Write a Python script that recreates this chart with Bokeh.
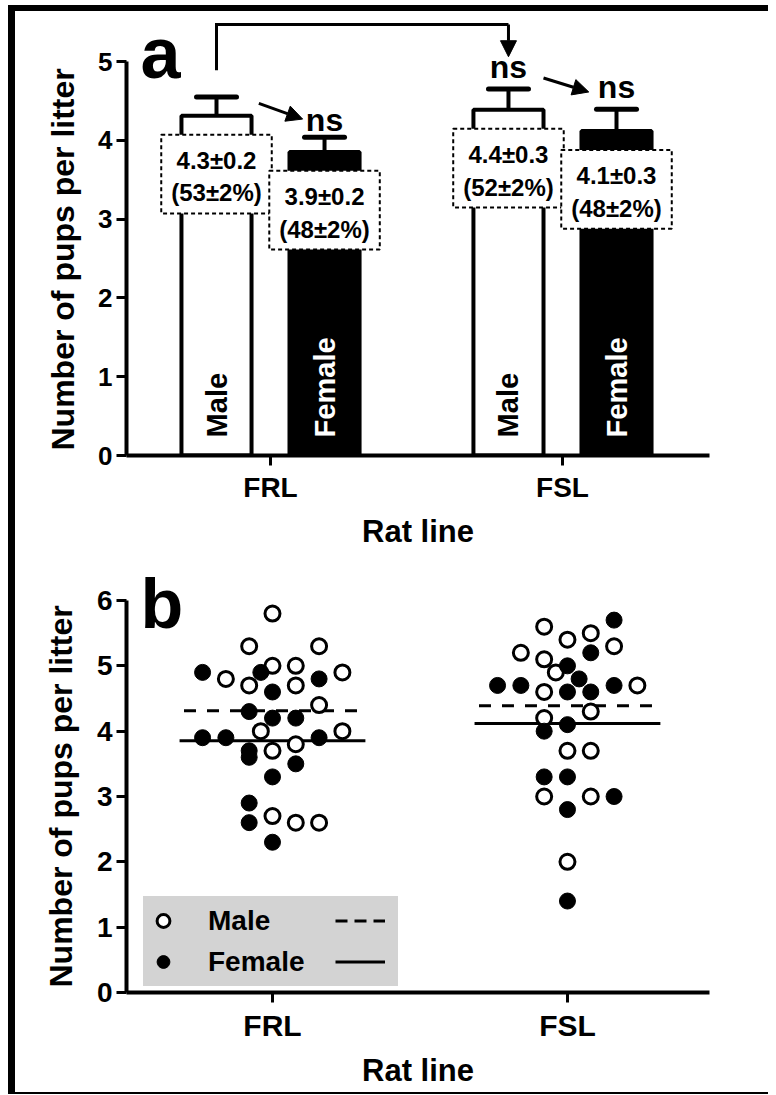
import math
import numpy as np
from bokeh.plotting import figure
from bokeh.models import (ColumnDataSource, FixedTicker, Whisker, TeeHead, Arrow,
                          NormalHead, Label, Legend, LegendItem, Range1d, Title)
from bokeh.layouts import column
from bokeh.embed import file_html
from bokeh.resources import INLINE
from bokeh.core.properties import value

FONT = "Liberation Sans"

# ---------------- data ----------------
rat_lines = ["FRL", "FSL"]
sexes = ["Male", "Female"]
x_title = "Rat line"
y_title = "Number of pups per litter"

frl_male = [5.8, 5.3, 5.3, 5.0, 5.0, 4.9, 4.8, 4.7, 4.7, 4.4, 4.0, 4.0, 3.8, 3.7, 2.7, 2.6, 2.6]
frl_male_slot = [0, -1, 2, 0, 1, 3, -2, -1, 1, 2, -0.5, 3, 1, 0, 0, 1, 2]
frl_female = [4.9, 4.9, 4.8, 4.6, 4.3, 4.2, 4.2, 3.9, 3.9, 3.9, 3.7, 3.6, 3.5, 3.3, 2.9, 2.6, 2.3]
frl_female_slot = [-3, -0.5, 2, 0, -1, 0, 1, -3, -2, 2, -1, -1, 1, 0, -1, -1, 0]
fsl_male = [5.6, 5.5, 5.4, 5.3, 5.2, 5.1, 4.9, 4.7, 4.6, 4.3, 4.2, 3.7, 3.7, 3.0, 3.0, 2.0]
fsl_male_slot = [-1, 1, 0, 2, -2, -1, -0.5, 3, -1, 1, -1, 0, 1, -1, 1, 0]
fsl_female = [5.7, 5.2, 5.0, 4.8, 4.7, 4.7, 4.7, 4.6, 4.6, 4.1, 4.0, 3.3, 3.3, 3.0, 2.8, 1.4]
fsl_female_slot = [2, 1, 0, 0.5, -3, -2, 2, 0, 1, 0, -1, -1, 0, 2, 0, 0]

# summary annotations, order: FRL-Male, FRL-Female, FSL-Male, FSL-Female
mean_sem_labels = ["4.3\u00b10.2", "3.9\u00b10.2", "4.4\u00b10.3", "4.1\u00b10.3"]
percent_labels = ["(53\u00b12%)", "(48\u00b12%)", "(52\u00b12%)", "(48\u00b12%)"]
ns_label = "ns"

# ---------------- derived ----------------
values = {("FRL", "Male"): frl_male, ("FRL", "Female"): frl_female,
          ("FSL", "Male"): fsl_male, ("FSL", "Female"): fsl_female}
slots = {("FRL", "Male"): frl_male_slot, ("FRL", "Female"): frl_female_slot,
         ("FSL", "Male"): fsl_male_slot, ("FSL", "Female"): fsl_female_slot}
group_pos = {"FRL": 1.0, "FSL": 3.0}
bar_off = {"Male": -0.37, "Female": 0.37}
order = [(g, s) for g in rat_lines for s in sexes]

bx = [group_pos[g] + bar_off[s] for g, s in order]
means = [float(np.mean(values[k])) for k in order]
sems = [float(np.std(values[k], ddof=1) / np.sqrt(len(values[k]))) for k in order]
caps = [m + e for m, e in zip(means, sems)]
box_top = [m - 0.24 for m in means]


def style(p, ymax, xlab_size, ylab_size):
    p.xgrid.visible = False
    p.ygrid.visible = False
    p.outline_line_color = None
    p.background_fill_color = "white"
    p.border_fill_color = "white"
    for ax in (p.xaxis[0], p.yaxis[0]):
        ax.axis_line_width = 4
        ax.axis_line_color = "black"
        ax.major_tick_line_width = 3
        ax.major_tick_line_color = "black"
        ax.major_tick_out = 10
        ax.major_tick_in = 0
        ax.minor_tick_line_color = None
        ax.major_label_text_font = FONT
        ax.major_label_text_font_style = "bold"
        ax.major_label_text_color = "black"
        ax.axis_label_text_font = FONT
        ax.axis_label_text_font_style = "bold"
        ax.axis_label_text_color = "black"
        ax.axis_label_text_font_size = "31px"
    p.xaxis[0].major_label_text_font_size = xlab_size
    p.yaxis[0].major_label_text_font_size = ylab_size
    p.xaxis[0].ticker = FixedTicker(ticks=[group_pos[g] for g in rat_lines])
    p.xaxis[0].major_label_overrides = {group_pos[g]: g for g in rat_lines}
    p.xaxis[0].major_label_standoff = 6
    p.xaxis[0].axis_label = x_title
    p.xaxis[0].axis_label_standoff = 8
    p.yaxis[0].ticker = FixedTicker(ticks=list(range(0, ymax + 1)))
    p.yaxis[0].bounds = (0, ymax)
    p.yaxis[0].major_label_standoff = 4
    # y title starts at the bottom of the axis (as in the original), not centred on the frame
    p.add_layout(Title(text=y_title, align="left", offset=5, vertical_align="middle", standoff=28,
                       text_font=FONT, text_font_style="bold", text_font_size="32px",
                       text_color="black"), "left")


# ---------------- panel a ----------------
pa = figure(width=753, height=551, x_range=Range1d(0.0135, 4.007), y_range=Range1d(0, 5.635),
            output_backend="svg", toolbar_location=None,
            min_border_left=111, min_border_right=51, min_border_top=0, min_border_bottom=107)
style(pa, 5, "28px", "26px")

bars = ColumnDataSource(dict(
    x=bx, top=means, upper=caps,
    fill=["white" if s == "Male" else "black" for g, s in order],
    tcolor=["black" if s == "Male" else "white" for g, s in order],
    sex=[s for g, s in order],
    box_y=[t - 0.5 for t in box_top],
    t1_y=[t - 0.33 for t in box_top],
    t2_y=[t - 0.74 for t in box_top],
    t1=mean_sem_labels, t2=percent_labels,
))

pa.vbar(x="x", top="top", bottom=0, width=0.48, fill_color="fill", line_color="black",
        line_width=4, source=bars)
pa.add_layout(Whisker(base="x", lower="top", upper="upper", source=bars, dimension="height",
                      line_color="black", line_width=4,
                      upper_head=TeeHead(size=40, line_color="black", line_width=5, line_cap="round"),
                      lower_head=None))
pa.rect(x="x", y="box_y", width=0.757, height=1.0, fill_color="white", line_color="black",
        line_width=2, line_dash="4 3", source=bars)
for col_y, col_t in (("t1_y", "t1"), ("t2_y", "t2")):
    pa.text(x="x", y=col_y, text=col_t, source=bars, text_align="center", text_baseline="middle",
            text_font=value(FONT), text_font_style="bold", text_font_size="24px", text_color="black")
pa.text(x="x", y=0.23, text="sex", source=bars, angle=math.pi / 2, text_align="left",
        text_baseline="middle", text_color="tcolor", text_font=value(FONT),
        text_font_style="bold", text_font_size="29px")

ns_src = ColumnDataSource(dict(x=[bx[1], bx[2], bx[3]],
                               y=[caps[1] + 0.22, caps[2] + 0.28, caps[3] + 0.28],
                               t=[ns_label] * 3))
pa.text(x="x", y="y", text="t", source=ns_src, text_align="center", text_baseline="middle",
        text_font=value(FONT), text_font_style="bold", text_font_size="32px", text_color="black")

# comparison arrows
for (xs, ys), (xe, ye) in (((bx[0] + 0.29, caps[0] - 0.08), (bx[1] - 0.15, caps[1] + 0.23)),
                           ((bx[2] + 0.24, caps[2] + 0.14), (bx[3] - 0.19, caps[3] + 0.22))):
    pa.add_layout(Arrow(x_start=xs, y_start=ys, x_end=xe, y_end=ye, line_width=3, line_color="black",
                        end=NormalHead(size=16, fill_color="black", line_color="black", line_width=1)))
# bracket FRL male -> FSL male
top_y = 5.47
pa.line(x=[bx[0], bx[0], bx[2]], y=[caps[0] + 0.34, top_y, top_y], line_width=3, line_color="black",
        line_join="miter")
pa.add_layout(Arrow(x_start=bx[2], y_start=top_y, x_end=bx[2], y_end=caps[2] + 0.41, line_width=3,
                    line_color="black",
                    end=NormalHead(size=16, fill_color="black", line_color="black", line_width=1)))

pa.add_layout(Label(x=14, y=403, x_units="screen", y_units="screen", text="a", text_font=FONT,
                    text_font_style="bold", text_font_size="72px", text_color="black",
                    text_baseline="middle"))

# ---------------- panel b ----------------
pb = figure(width=753, height=530, x_range=Range1d(0.0102, 3.963), y_range=Range1d(0, 6.582),
            output_backend="svg", toolbar_location=None,
            min_border_left=111, min_border_right=59, min_border_top=0, min_border_bottom=100)
style(pb, 6, "30px", "28px")

slot_step = 0.158
pts = {}
for s in sexes:
    xs, ys = [], []
    for g in rat_lines:
        xs += [group_pos[g] + k * slot_step for k in slots[(g, s)]]
        ys += list(values[(g, s)])
    pts[s] = ColumnDataSource(dict(x=xs, y=ys))

half = {"Male": 0.6, "Female": 0.63}
dash = {"Male": "12 11", "Female": "solid"}
legend_dash = {"Male": "12 7", "Female": "solid"}
legend_line = {}
nan = float("nan")
for s in sexes:
    ms = [means[order.index((g, s))] for g in rat_lines]
    src = ColumnDataSource(dict(x0=[group_pos[g] - half[s] for g in rat_lines],
                                x1=[group_pos[g] + half[s] for g in rat_lines], y=ms))
    pb.segment(x0="x0", y0="y", x1="x1", y1="y", source=src, line_color="black",
               line_width=3, line_dash=dash[s])
    # legend sample only (undrawable point)
    legend_line[s] = pb.segment(x0=[nan], y0=[nan], x1=[nan], y1=[nan], line_color="black",
                                line_width=3, line_dash=legend_dash[s])

r_m = pb.scatter(x="x", y="y", source=pts["Male"], marker="circle", size=15, fill_color="white",
                 line_color="black", line_width=3)
r_f = pb.scatter(x="x", y="y", source=pts["Female"], marker="circle", size=16, fill_color="black",
                 line_color="black", line_width=1)


def make_legend(items, loc, gw, lw, standoff):
    return Legend(items=items, location=loc, orientation="vertical", padding=4, margin=0, spacing=0,
                  glyph_width=gw, glyph_height=41, label_height=41, label_width=lw,
                  label_standoff=standoff, background_fill_color="#d3d3d3", background_fill_alpha=1,
                  border_line_alpha=0, label_text_font=FONT, label_text_font_style="bold",
                  label_text_font_size="28px", label_text_color="black")


leg1 = make_legend([LegendItem(label="Male", renderers=[r_m]),
                    LegendItem(label="Female", renderers=[r_f])], (17, 6), 32, 119, 29)
leg2 = make_legend([LegendItem(label=" ", renderers=[legend_line["Male"]]),
                    LegendItem(label=" ", renderers=[legend_line["Female"]])], (205, 6), 50, 9, 0)
pb.add_layout(leg1, "center")
pb.add_layout(leg2, "center")

pb.add_layout(Label(x=14, y=389, x_units="screen", y_units="screen", text="b", text_font=FONT,
                    text_font_style="bold", text_font_size="70px", text_color="black",
                    text_baseline="middle"))

layout = column(pa, pb, styles={"margin-left": "8px", "margin-top": "5px",
                                "border-left": "7px solid black", "border-top": "6px solid black",
                                "border-bottom": "2px solid black"})

open("out.html", "w").write(file_html(layout, INLINE))
